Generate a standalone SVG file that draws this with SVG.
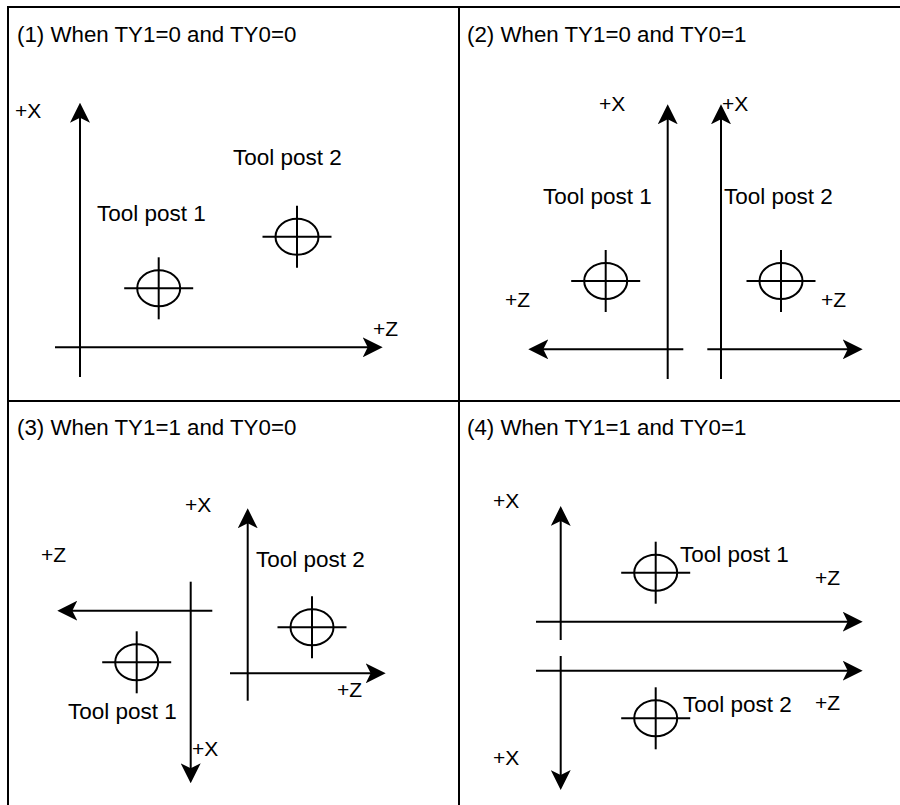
<svg xmlns="http://www.w3.org/2000/svg" width="900" height="805" viewBox="0 0 900 805">
<style>
  .frame { stroke: #000; stroke-width: 2; fill: none; }
  .axis { stroke: #000; stroke-width: 2; fill: none; marker-end: url(#arrow); }
  text { font-family: "Liberation Sans", Arial, sans-serif; fill: #000; }
  .title { font-size: 22.3px; }
  .lbl { font-size: 22.5px; }
  .ax { font-size: 21px; }
</style>
<defs>
  <marker id="arrow" viewBox="0 0 20 20" refX="16" refY="10" markerWidth="20" markerHeight="20" markerUnits="userSpaceOnUse" orient="auto">
    <path d="M20,10 L0,0 L5,10 L0,20 Z" fill="#000"/>
  </marker>
  <g id="tp" fill="none" stroke="#000" stroke-width="2">
    <ellipse cx="0" cy="0" rx="21.5" ry="18"/>
    <line x1="-34.5" y1="0" x2="34.5" y2="0"/>
    <line x1="0" y1="-31" x2="0" y2="31"/>
  </g>
</defs>
<rect width="900" height="805" fill="#fff"/>
<g id="frame" class="frame">
  <line x1="8" y1="7" x2="8" y2="805"/>
  <line x1="7" y1="7" x2="900" y2="7"/>
  <line x1="459" y1="7" x2="459" y2="805"/>
  <line x1="8" y1="401" x2="900" y2="401"/>
</g>
<g id="titles">
  <text class="title" x="17" y="42">(1) When TY1=0 and TY0=0</text>
  <text class="title" x="467" y="42">(2) When TY1=0 and TY0=1</text>
  <text class="title" x="17" y="435">(3) When TY1=1 and TY0=0</text>
  <text class="title" x="467" y="435">(4) When TY1=1 and TY0=1</text>
</g>
<g id="connectors">
  <line class="axis" x1="80" y1="377" x2="80" y2="106.7"/>
  <line class="axis" x1="55" y1="347.3" x2="378.7" y2="347.3"/>
  <line class="axis" x1="667.7" y1="379" x2="667.7" y2="108.3"/>
  <line class="axis" x1="683.3" y1="349.3" x2="532.3" y2="349.3"/>
  <line class="axis" x1="721" y1="379" x2="721" y2="108.3"/>
  <line class="axis" x1="707.3" y1="349.3" x2="858.7" y2="349.3"/>
  <line class="axis" x1="190.7" y1="581.7" x2="190.7" y2="779.3"/>
  <line class="axis" x1="212.3" y1="610.7" x2="61.3" y2="610.7"/>
  <line class="axis" x1="247.7" y1="700.7" x2="247.7" y2="512.3"/>
  <line class="axis" x1="230" y1="673.3" x2="381.7" y2="673.3"/>
  <line class="axis" x1="560.7" y1="640" x2="560.7" y2="510"/>
  <line class="axis" x1="536" y1="621.7" x2="858.7" y2="621.7"/>
  <line class="axis" x1="560.7" y1="656" x2="560.7" y2="786"/>
  <line class="axis" x1="536" y1="670.7" x2="858.7" y2="670.7"/>
</g>
<g id="axis-labels">
  <text class="ax" x="15" y="118">+X</text>
  <text class="ax" x="373" y="336">+Z</text>
  <text class="ax" x="599" y="111">+X</text>
  <text class="ax" x="722" y="111">+X</text>
  <text class="ax" x="505" y="307">+Z</text>
  <text class="ax" x="821" y="307">+Z</text>
  <text class="ax" x="185" y="512">+X</text>
  <text class="ax" x="41" y="562">+Z</text>
  <text class="ax" x="337" y="697">+Z</text>
  <text class="ax" x="192" y="756">+X</text>
  <text class="ax" x="493" y="508">+X</text>
  <text class="ax" x="815" y="585">+Z</text>
  <text class="ax" x="815" y="710">+Z</text>
  <text class="ax" x="493" y="765">+X</text>
</g>
<g id="post-1-1">
  <use href="#tp" x="158.7" y="288.3"/>
  <text class="lbl" x="97" y="221">Tool post 1</text>
</g>
<g id="post-1-2">
  <use href="#tp" x="297" y="236.7"/>
  <text class="lbl" x="233" y="165">Tool post 2</text>
</g>
<g id="post-2-1">
  <use href="#tp" x="605.7" y="281"/>
  <text class="lbl" x="543" y="204">Tool post 1</text>
</g>
<g id="post-2-2">
  <use href="#tp" x="781" y="281"/>
  <text class="lbl" x="724" y="204">Tool post 2</text>
</g>
<g id="post-3-1">
  <use href="#tp" x="136.7" y="662.3"/>
  <text class="lbl" x="68" y="719">Tool post 1</text>
</g>
<g id="post-3-2">
  <use href="#tp" x="312" y="627.3"/>
  <text class="lbl" x="256" y="567">Tool post 2</text>
</g>
<g id="post-4-1">
  <use href="#tp" x="655.7" y="572.7"/>
  <text class="lbl" x="680" y="562">Tool post 1</text>
</g>
<g id="post-4-2">
  <use href="#tp" x="655.7" y="718.3"/>
  <text class="lbl" x="683" y="712">Tool post 2</text>
</g>
</svg>
